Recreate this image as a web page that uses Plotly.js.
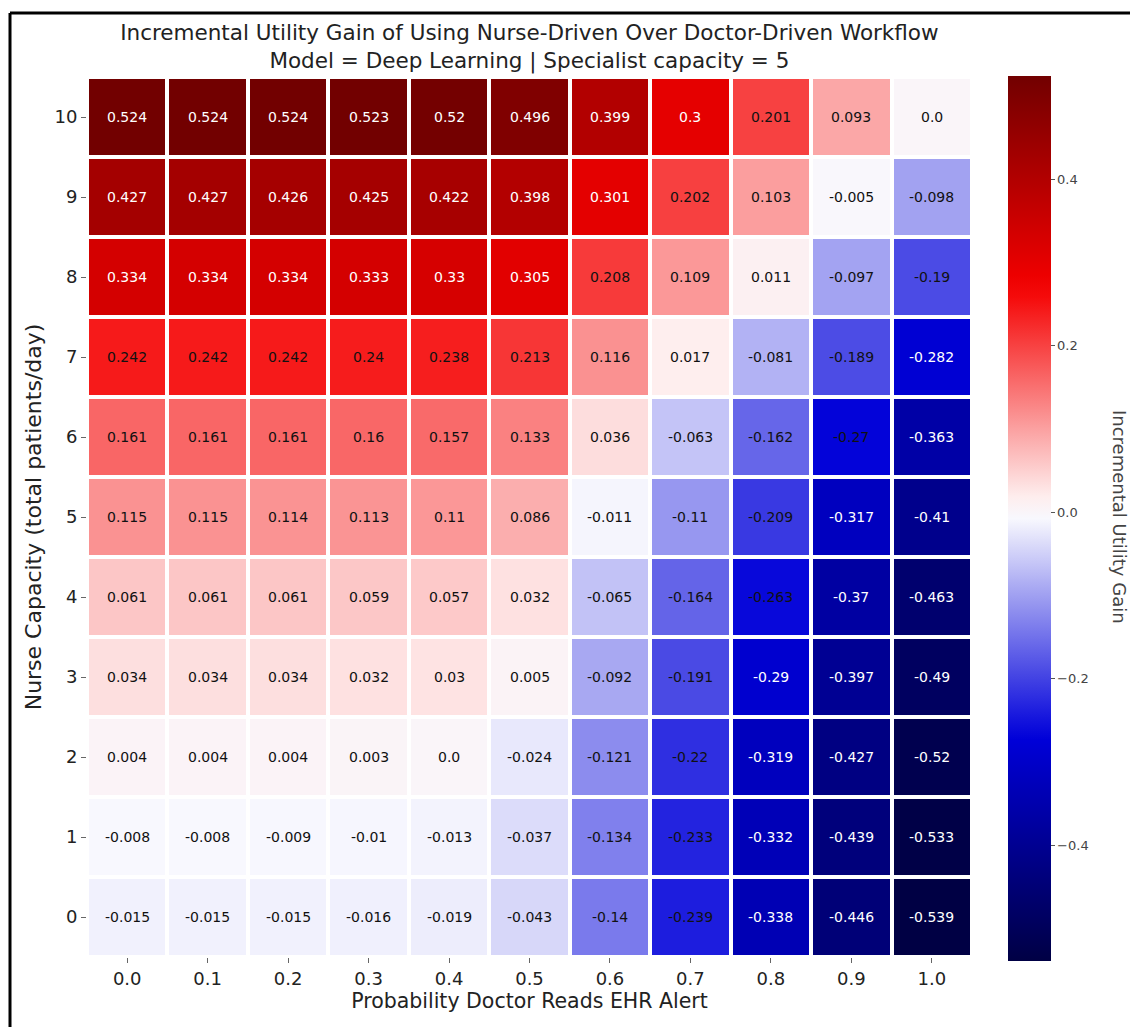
<!DOCTYPE html>
<html>
<head>
<meta charset="utf-8">
<script src="https://cdn.plot.ly/plotly-3.0.1.min.js"></script>
<style>html,body{margin:0;padding:0;background:#fff;}#chart{width:1130px;height:1027px;}</style>
</head>
<body>
<div id="chart"></div>
<script>
// Categories
const probLabels = ["0.0","0.1","0.2","0.3","0.4","0.5","0.6","0.7","0.8","0.9","1.0"];
const nurseCapacity = ["0","1","2","3","4","5","6","7","8","9","10"];

// Values, one array per nurse capacity (row), left to right by probability
const cap0  = [-0.015,-0.015,-0.015,-0.016,-0.019,-0.043,-0.14,-0.239,-0.338,-0.446,-0.539];
const cap1  = [-0.008,-0.008,-0.009,-0.01,-0.013,-0.037,-0.134,-0.233,-0.332,-0.439,-0.533];
const cap2  = [0.004,0.004,0.004,0.003,0.0,-0.024,-0.121,-0.22,-0.319,-0.427,-0.52];
const cap3  = [0.034,0.034,0.034,0.032,0.03,0.005,-0.092,-0.191,-0.29,-0.397,-0.49];
const cap4  = [0.061,0.061,0.061,0.059,0.057,0.032,-0.065,-0.164,-0.263,-0.37,-0.463];
const cap5  = [0.115,0.115,0.114,0.113,0.11,0.086,-0.011,-0.11,-0.209,-0.317,-0.41];
const cap6  = [0.161,0.161,0.161,0.16,0.157,0.133,0.036,-0.063,-0.162,-0.27,-0.363];
const cap7  = [0.242,0.242,0.242,0.24,0.238,0.213,0.116,0.017,-0.081,-0.189,-0.282];
const cap8  = [0.334,0.334,0.334,0.333,0.33,0.305,0.208,0.109,0.011,-0.097,-0.19];
const cap9  = [0.427,0.427,0.426,0.425,0.422,0.398,0.301,0.202,0.103,-0.005,-0.098];
const cap10 = [0.524,0.524,0.524,0.523,0.52,0.496,0.399,0.3,0.201,0.093,0.0];

const colorbarTicks = [-0.4,-0.2,0.0,0.2,0.4];

const z = [cap0,cap1,cap2,cap3,cap4,cap5,cap6,cap7,cap8,cap9,cap10];

// seismic-like colormap, centred at 0
let zmin = Infinity, zmax = -Infinity;
z.forEach(r => r.forEach(v => { if (v < zmin) zmin = v; if (v > zmax) zmax = v; }));
const vr = Math.max(zmax, -zmin);
const seismic = [[0,0,68],[0,0,218],[255,255,255],[245,0,0],[106,0,0]];
function seis(f){ // f in [0,1]
  const p = Math.min(Math.max(f,0),1)*4; const i = Math.min(Math.floor(p),3); const t = p - i;
  const a = seismic[i], b = seismic[i+1];
  return 'rgb(' + a.map((c,k)=>Math.round(c+(b[k]-c)*t)).join(',') + ')';
}
const colorscale = [];
const N = 40;
for (let i = 0; i <= N; i++) {
  const v = zmin + (zmax - zmin) * i / N;
  colorscale.push([i / N, seis(0.5 + 0.5 * v / vr)]);
}

function fmt(v){ return (Math.abs(v) < 1e-12) ? "0.0" : (Number.isInteger(v) ? v.toFixed(1) : String(v)); }

const annotations = [];
z.forEach((row, yi) => row.forEach((v, xi) => {
  annotations.push({
    x: xi, y: yi, xref: 'x', yref: 'y',
    text: fmt(v), showarrow: false,
    font: {family: 'DejaVu Sans', size: 14, color: (v >= 0.25 || v <= -0.275) ? '#ffffff' : '#111111'}
  });
}));
annotations.push({
  xref: 'paper', yref: 'paper', x: (1120-87)/885, y: (957-517)/880, xanchor: 'center', yanchor: 'middle',
  text: 'Incremental Utility Gain', textangle: 90, showarrow: false,
  font: {family: 'DejaVu Sans', size: 18, color: '#444'}
});

const trace = {
  type: 'heatmap', x: probLabels, y: nurseCapacity, z: z,
  zmin: zmin, zmax: zmax, colorscale: colorscale,
  xgap: 4, ygap: 4, hoverongaps: false,
  colorbar: {
    x: (1008-87-10)/885, xanchor: 'left', xpad: 10, thickness: 43, thicknessmode: 'pixels',
    len: 905, lenmode: 'pixels', y: (957-518.5)/880, yanchor: 'middle', ypad: 10,
    outlinewidth: 0, tickvals: colorbarTicks, ticktext: colorbarTicks.map(t => (t < 0 ? '\u2212' : '') + Math.abs(t).toFixed(1)),
    ticks: 'outside', ticklen: 4, tickcolor: '#555',
    tickfont: {family: 'DejaVu Sans', size: 13, color: '#444'}
  }
};

const layout = {
  width: 1130, height: 1027,
  margin: {l: 87, r: 158, t: 77, b: 70},
  paper_bgcolor: '#fff', plot_bgcolor: '#fff',
  title: {
    text: 'Incremental Utility Gain of Using Nurse-Driven Over Doctor-Driven Workflow<br>Model = Deep Learning | Specialist capacity = 5',
    x: 0.4685, xanchor: 'center', yref: 'container', y: 1 - 40/1027, yanchor: 'middle',
    font: {family: 'DejaVu Sans', size: 21.5, color: '#222'}
  },
  xaxis: {
    type: 'category', showgrid: false, zeroline: false,
    ticks: 'outside', ticklen: 5, tickcolor: '#666',
    tickfont: {family: 'DejaVu Sans', size: 18, color: '#222'},
    title: {text: 'Probability Doctor Reads EHR Alert', standoff: 6, font: {family: 'DejaVu Sans', size: 20.5, color: '#222'}}
  },
  yaxis: {
    type: 'category', showgrid: false, zeroline: false,
    ticks: 'outside', ticklen: 5, tickcolor: '#666',
    tickfont: {family: 'DejaVu Sans', size: 18, color: '#222'},
    title: {text: 'Nurse Capacity (total patients/day)', standoff: 6, font: {family: 'DejaVu Sans', size: 22, color: '#222'}}
  },
  annotations: annotations,
  shapes: [
    {type: 'line', xref: 'paper', yref: 'paper', x0: (10-87)/885, x1: (1135-87)/885, y0: (957-13)/880, y1: (957-13)/880, line: {color: '#000', width: 3}},
    {type: 'line', xref: 'paper', yref: 'paper', x0: (10-87)/885, x1: (10-87)/885, y0: (957-13)/880, y1: (957-1035)/880, line: {color: '#000', width: 3}}
  ]
};

Plotly.newPlot('chart', [trace], layout, {displayModeBar: false, responsive: false});
</script>
</body>
</html>
